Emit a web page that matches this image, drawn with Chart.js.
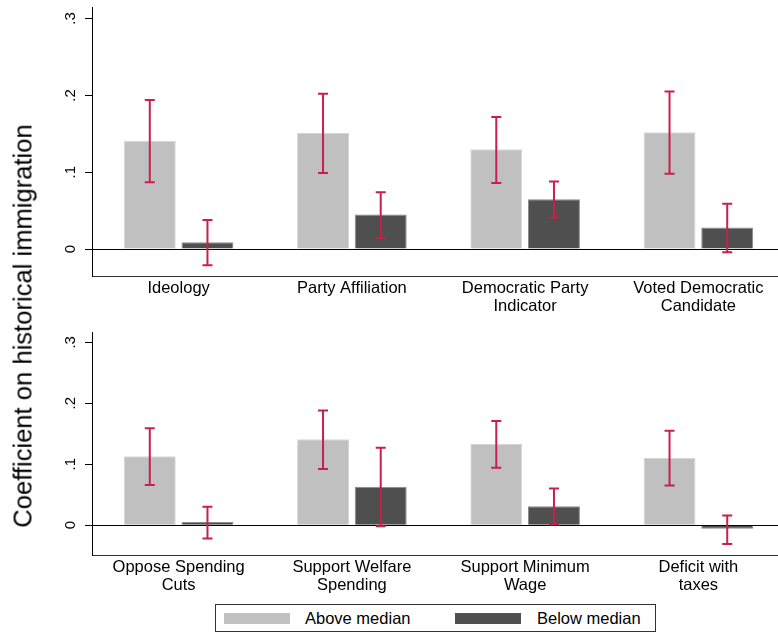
<!DOCTYPE html>
<html>
<head>
<meta charset="utf-8">
<script src="https://cdn.jsdelivr.net/npm/chart.js@4.4.1/dist/chart.umd.min.js"></script>
<style>
  body { margin: 0; width: 778px; height: 639px; overflow: hidden; background: #fff; position: relative;
         font-family: "Liberation Sans", Arial, sans-serif; color: #000; }
  canvas { position: absolute; left: 0; }
  #topChart { top: 0; }
  #bottomChart { top: 320px; }
  #ytitle { position: absolute; left: 23px; top: 326px; transform: translate(-50%, -50%) rotate(-90deg);
            white-space: nowrap; font-size: 25.6px; }
  #legend { position: absolute; left: 215px; top: 604px; width: 439px; height: 26px; border: 1px solid #333; }
  #legend .sw { position: absolute; top: 8px; width: 66px; height: 11px; }
  #legend .lab { position: absolute; top: 3px; font-size: 16.5px; line-height: 20px; }
</style>
</head>
<body>
<canvas id="topChart" width="786" height="320"></canvas>
<canvas id="bottomChart" width="786" height="282"></canvas>
<div id="ytitle">Coefficient on historical immigration</div>
<div id="legend">
  <div class="sw" style="left:8px;background:#c0c0c0"></div>
  <div class="lab" style="left:89px">Above median</div>
  <div class="sw" style="left:239px;background:#4f4f4f"></div>
  <div class="lab" style="left:321px">Below median</div>
</div>
<script>
// data
const topCategories = [['Ideology'], ['Party Affiliation'], ['Democratic Party', 'Indicator'], ['Voted Democratic', 'Candidate']];
const topAbove     = [0.141, 0.151, 0.130, 0.152];
const topAboveLow  = [0.087, 0.099, 0.086, 0.098];
const topAboveHigh = [0.194, 0.202, 0.172, 0.205];
const topBelow     = [0.009, 0.045, 0.065, 0.028];
const topBelowLow  = [-0.021, 0.014, 0.041, -0.004];
const topBelowHigh = [0.038, 0.074, 0.088, 0.059];

const bottomCategories = [['Oppose Spending', 'Cuts'], ['Support Welfare', 'Spending'], ['Support Minimum', 'Wage'], ['Deficit with', 'taxes']];
const bottomAbove     = [0.113, 0.141, 0.133, 0.110];
const bottomAboveLow  = [0.066, 0.092, 0.094, 0.065];
const bottomAboveHigh = [0.159, 0.188, 0.171, 0.155];
const bottomBelow     = [0.005, 0.063, 0.031, -0.006];
const bottomBelowLow  = [-0.022, -0.002, 0.001, -0.031];
const bottomBelowHigh = [0.030, 0.127, 0.060, 0.016];

const yTicks = [0, 0.1, 0.2, 0.3];
const yTickLabels = ['0', '.1', '.2', '.3'];

const FONT = '"Liberation Sans", Arial, sans-serif';

// red error bars on top of each bar
const errorBars = {
    id: 'errorBars',
    afterDatasetsDraw(chart) {
        const ctx = chart.ctx;
        const yScale = chart.scales.y;
        ctx.save();
        ctx.strokeStyle = '#c91f4c';
        ctx.lineWidth = 2;
        chart.data.datasets.forEach(function (ds, di) {
            chart.getDatasetMeta(di).data.forEach(function (bar, i) {
                const lo = yScale.getPixelForValue(ds.errLow[i]);
                const hi = yScale.getPixelForValue(ds.errHigh[i]);
                ctx.beginPath();
                ctx.moveTo(bar.x, lo); ctx.lineTo(bar.x, hi);
                ctx.moveTo(bar.x - 5, lo); ctx.lineTo(bar.x + 5, lo);
                ctx.moveTo(bar.x - 5, hi); ctx.lineTo(bar.x + 5, hi);
                ctx.stroke();
            });
        });
        ctx.restore();
    }
};

function makePanel(id, cats, above, aboveLow, aboveHigh, below, belowLow, belowHigh, yMin, yMax, padTop, xHeight) {
    return new Chart(document.getElementById(id), {
        type: 'bar',
        data: {
            labels: cats,
            datasets: [{
                label: 'Above median',
                data: above,
                errLow: aboveLow,
                errHigh: aboveHigh,
                backgroundColor: '#c0c0c0',
                borderColor: '#d6d6d6',
                borderWidth: 1
            }, {
                label: 'Below median',
                data: below,
                errLow: belowLow,
                errHigh: belowHigh,
                backgroundColor: '#4f4f4f',
                borderColor: '#8a8a8a',
                borderWidth: 1
            }]
        },
        options: {
            responsive: false,
            animation: false,
            categoryPercentage: 0.666,
            barPercentage: 0.9,
            layout: { padding: { top: padTop, right: 1, left: 0, bottom: 0 } },
            plugins: { legend: { display: false }, tooltip: { enabled: false } },
            scales: {
                x: {
                    grid: { display: false, tickLength: 0 },
                    border: { display: true, color: '#333', width: 1 },
                    ticks: {
                        color: '#000',
                        padding: 3,
                        maxRotation: 0,
                        font: { family: FONT, size: 16.5, lineHeight: 1.1 }
                    },
                    afterFit: function (scale) {
                        scale.height = xHeight;
                        scale.paddingLeft = 0;
                        scale.paddingRight = 0;
                    }
                },
                y: {
                    min: yMin,
                    max: yMax,
                    afterBuildTicks: function (scale) {
                        scale.ticks = yTicks.map(function (v) { return { value: v }; });
                    },
                    grid: {
                        drawOnChartArea: true,
                        color: function (c) { return c.tick && c.tick.value === 0 ? '#000' : 'rgba(0,0,0,0)'; },
                        tickColor: '#000',
                        tickLength: 7,
                        lineWidth: 1
                    },
                    border: { display: true, color: '#000', width: 1 },
                    ticks: {
                        color: '#000',
                        minRotation: 90,
                        maxRotation: 90,
                        crossAlign: 'center',
                        padding: 8,
                        font: { family: FONT, size: 15 },
                        callback: function (value) { return yTickLabels[yTicks.indexOf(value)]; }
                    },
                    afterFit: function (scale) {
                        scale.width = 92;
                        scale.paddingTop = 0;
                        scale.paddingBottom = 0;
                    }
                }
            }
        },
        plugins: [errorBars]
    });
}

makePanel('topChart', topCategories, topAbove, topAboveLow, topAboveHigh,
    topBelow, topBelowLow, topBelowHigh, -0.035, 0.315, 7, 44);
makePanel('bottomChart', bottomCategories, bottomAbove, bottomAboveLow, bottomAboveHigh,
    bottomBelow, bottomBelowLow, bottomBelowHigh, -0.049, 0.317, 12, 47);
</script>
</body>
</html>
